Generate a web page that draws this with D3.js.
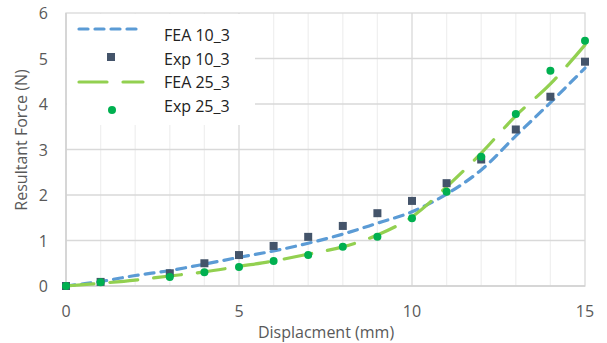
<!DOCTYPE html>
<html><head><meta charset="utf-8">
<script src="https://cdn.jsdelivr.net/npm/d3@7"></script>
<style>body{margin:0;background:#fff}text{font-family:"Open Sans",sans-serif;fill:#595959}</style>
</head><body><svg id="c" width="607" height="343"></svg>
<script>
const feaX = [0,1,2,3,4,5,6,7,8,9,10,11,12,13,14,15];
const fea10 = [0,0.10,0.23,0.34,0.48,0.63,0.77,0.94,1.14,1.38,1.63,2.02,2.55,3.30,4.03,4.79];
const fea25 = [0,0.06,0.13,0.22,0.31,0.43,0.55,0.70,0.86,1.12,1.52,2.18,2.92,3.74,4.44,5.30];
const expX = [0,1,3,4,5,6,7,8,9,10,11,12,13,14,15];
const exp10 = [0,0.09,0.28,0.50,0.68,0.88,1.08,1.32,1.60,1.87,2.26,2.78,3.44,4.16,4.93];
const exp25 = [0,0.08,0.20,0.30,0.42,0.55,0.68,0.86,1.08,1.49,2.07,2.84,3.78,4.73,5.39];
const xTicks = [0,5,10,15];
const yTicks = [0,1,2,3,4,5,6];
const seriesNames = ["FEA 10_3","Exp 10_3","FEA 25_3","Exp 25_3"];

const svg = d3.select("#c");
const L=66,R=585,T=13,B=286;
const x = d3.scaleLinear().domain([0,15]).range([L,R]);
const y = d3.scaleLinear().domain([0,6]).range([B,T]);

const g = svg.append("g");
g.selectAll(".vmin").data(d3.range(1,15).filter(v=>v%5!==0)).enter().append("line")
  .attr("x1",d=>x(d)).attr("x2",d=>x(d)).attr("y1",T).attr("y2",B)
  .attr("stroke","#f0f0f0").attr("stroke-width",1.3);
g.selectAll(".vmaj").data([5,10]).enter().append("line")
  .attr("x1",d=>x(d)).attr("x2",d=>x(d)).attr("y1",T).attr("y2",B)
  .attr("stroke","#d9d9d9").attr("stroke-width",1.3);
g.selectAll(".h").data(yTicks.slice(1,6)).enter().append("line")
  .attr("x1",L).attr("x2",R).attr("y1",d=>y(d)).attr("y2",d=>y(d))
  .attr("stroke","#d9d9d9").attr("stroke-width",1.3);
svg.append("rect").attr("x",L).attr("y",T).attr("width",R-L).attr("height",B-T)
  .attr("fill","none").attr("stroke","#d9d9d9").attr("stroke-width",1.3);
svg.append("line").attr("x1",L).attr("x2",L).attr("y1",T).attr("y2",B).attr("stroke","#d0d0d0").attr("stroke-width",1.5);
svg.append("line").attr("x1",L).attr("x2",R).attr("y1",B).attr("y2",B).attr("stroke","#d0d0d0").attr("stroke-width",1.5);

svg.append("g").selectAll("text").data(xTicks).enter().append("text")
  .attr("x",d=>x(d)).attr("y",317).attr("text-anchor","middle").style("font-size","16px").text(d=>d);
svg.append("g").selectAll("text").data(yTicks).enter().append("text")
  .attr("x",48).attr("y",d=>y(d)+6).attr("text-anchor","end").style("font-size","16px").text(d=>d);

svg.append("text").attr("x",326).attr("y",338).attr("text-anchor","middle").style("font-size","16px").text("Displacment (mm)");
svg.append("text").attr("transform","translate(27,140) rotate(-90)").attr("text-anchor","middle").style("font-size","16px").text("Resultant Force (N)");

svg.append("rect").attr("x",L+1).attr("y",T+1).attr("width",188).attr("height",111).attr("fill","#fff");

const line = d3.line().x(d=>x(d[0])).y(d=>y(d[1])).curve(d3.curveCatmullRom.alpha(0.5));
svg.append("path").datum(feaX.map((v,i)=>[v,fea10[i]])).attr("d",line)
  .attr("fill","none").attr("stroke","#5B9BD5").attr("stroke-width",3.2)
  .attr("stroke-linecap","round").attr("stroke-dasharray","9,7");
svg.append("path").datum(feaX.map((v,i)=>[v,fea25[i]])).attr("d",line)
  .attr("fill","none").attr("stroke","#92D050").attr("stroke-width",3.2)
  .attr("stroke-linecap","round").attr("stroke-dasharray","28,16");

svg.append("g").selectAll("rect").data(expX.map((v,i)=>[v,exp10[i]])).enter().append("rect")
  .attr("x",d=>x(d[0])-4).attr("y",d=>y(d[1])-4).attr("width",8).attr("height",8).attr("fill","#44546A");
svg.append("g").selectAll("circle").data(expX.map((v,i)=>[v,exp25[i]])).enter().append("circle")
  .attr("cx",d=>x(d[0])).attr("cy",d=>y(d[1])).attr("r",4).attr("fill","#00B050");

const lg = svg.append("g");
const ly = [29,57,82,106];
const ty = [35,59,82,106];
lg.append("line").attr("x1",79).attr("x2",143).attr("y1",ly[0]).attr("y2",ly[0])
  .attr("stroke","#5B9BD5").attr("stroke-width",3.2).attr("stroke-linecap","round").attr("stroke-dasharray","9,7");
lg.append("rect").attr("x",107).attr("y",ly[1]-4).attr("width",8).attr("height",8).attr("fill","#44546A");
lg.append("line").attr("x1",79).attr("x2",143).attr("y1",ly[2]).attr("y2",ly[2])
  .attr("stroke","#92D050").attr("stroke-width",3.2).attr("stroke-linecap","round").attr("stroke-dasharray","28,16");
lg.append("circle").attr("cx",112).attr("cy",ly[3]+4).attr("r",4).attr("fill","#00B050");
lg.selectAll("text").data(seriesNames).enter().append("text")
  .attr("x",164).attr("y",(d,i)=>ty[i]+6).style("font-size","16px").style("fill","#222").text(d=>d);
</script></body></html>
